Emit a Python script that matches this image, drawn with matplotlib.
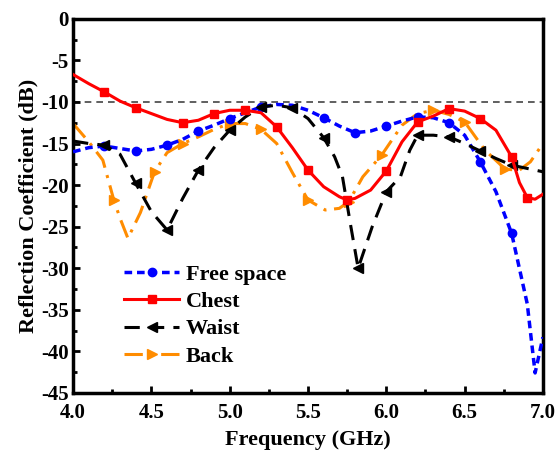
import matplotlib
matplotlib.use("Agg")
import matplotlib.pyplot as plt

plt.rcParams['font.family'] = ['Liberation Serif', 'DejaVu Serif']
plt.rcParams['font.weight'] = 'bold'
plt.rcParams['axes.labelweight'] = 'bold'
plt.rcParams['axes.unicode_minus'] = False

# values (GHz, dB)
free_x = [4.0, 4.1, 4.2, 4.3, 4.4, 4.5, 4.6, 4.7, 4.8, 4.9, 5.0, 5.1, 5.2, 5.3, 5.4, 5.5,
          5.6, 5.7, 5.8, 5.9, 6.0, 6.1, 6.2, 6.3, 6.4, 6.5, 6.6, 6.7, 6.8, 6.9, 6.95, 7.0]
free_y = [-16.0, -15.5, -15.3, -15.6, -15.9, -15.7, -15.2, -14.5, -13.5, -12.8, -12.0, -11.3,
          -10.6, -10.3, -10.4, -11.0, -11.9, -12.9, -13.7, -13.5, -12.9, -12.3, -11.8, -11.9,
          -12.5, -14.0, -17.2, -20.8, -25.8, -34.3, -42.6, -38.3]
free_marks = [2, 4, 6, 8, 10, 12, 16, 18, 20, 22, 24, 26, 28]

chest_x = [4.0, 4.1, 4.2, 4.3, 4.4, 4.5, 4.6, 4.7, 4.8, 4.9, 5.0, 5.1, 5.2, 5.3, 5.4, 5.5,
           5.6, 5.7, 5.75, 5.8, 5.9, 6.0, 6.1, 6.2, 6.3, 6.4, 6.5, 6.6, 6.7, 6.8, 6.85, 6.9, 6.95, 7.0]
chest_y = [-6.7, -7.8, -8.8, -9.9, -10.7, -11.4, -12.1, -12.5, -12.2, -11.4, -11.0, -11.0,
           -11.3, -13.0, -15.5, -18.2, -20.2, -21.4, -21.8, -21.6, -20.6, -18.3, -14.8, -12.4,
           -11.7, -10.8, -11.1, -12.0, -13.4, -16.6, -19.7, -21.5, -21.7, -21.1]
chest_marks = [2, 4, 7, 9, 11, 13, 15, 18, 21, 23, 25, 27, 29, 31]

waist_x = [4.0, 4.1, 4.2, 4.3, 4.4, 4.5, 4.6, 4.7, 4.8, 4.9, 5.0, 5.1, 5.2, 5.3, 5.4, 5.5,
           5.6, 5.67, 5.72, 5.77, 5.82, 5.91, 6.0, 6.09, 6.15, 6.2, 6.3, 6.4, 6.5, 6.6, 6.7, 6.8, 6.9, 7.0]
waist_y = [-14.7, -15.0, -15.2, -16.3, -19.8, -23.2, -25.4, -21.6, -18.2, -15.5, -13.4, -11.8,
           -10.6, -10.4, -10.7, -12.0, -14.3, -16.6, -19.0, -24.6, -30.0, -25.0, -20.8, -19.0,
           -15.8, -14.0, -14.0, -14.2, -15.0, -15.9, -16.8, -17.6, -18.0, -18.4]
waist_marks = [2, 4, 6, 8, 10, 12, 14, 16, 20, 22, 25, 27, 29, 31]

back_x = [4.0, 4.1, 4.19, 4.26, 4.3, 4.35, 4.43, 4.52, 4.6, 4.7, 4.8, 4.9, 5.0, 5.1, 5.2, 5.3,
          5.4, 5.5, 5.61, 5.7, 5.76, 5.85, 5.97, 6.1, 6.2, 6.3, 6.4, 6.5, 6.63, 6.76, 6.85, 6.92, 7.0]
back_y = [-12.6, -14.8, -17.0, -21.8, -24.0, -26.4, -23.3, -18.4, -16.1, -15.0, -14.2, -13.3,
          -12.6, -12.6, -13.3, -15.0, -18.5, -21.8, -23.0, -22.8, -22.0, -19.0, -16.4, -12.8,
          -11.4, -11.0, -11.5, -12.4, -15.8, -18.1, -18.2, -17.2, -15.0]
back_marks = [3, 7, 9, 12, 14, 17, 20, 22, 25, 27, 29]

fig = plt.figure(figsize=(5.58, 4.59), dpi=100)
ax = fig.add_axes([0.131, 0.144, 0.842, 0.815])

ax.axhline(-10, color='#444444', lw=1.2, ls=(0, (4, 3)), zorder=1)

ax.plot(free_x, free_y, color='#0000ff', lw=2.5, ls=(0, (2.2, 1.4)), marker='o', ms=6,
        markevery=free_marks, label='Free space', zorder=3)
ax.plot(chest_x, chest_y, color='#ff0000', lw=2.2, ls='-', marker='s', ms=5.5,
        markevery=chest_marks, label='Chest', zorder=4)
ax.plot(waist_x, waist_y, color='black', lw=2.2, ls=(0, (5, 3)), marker='<', ms=6.5,
        markevery=waist_marks, label='Waist', zorder=3)
ax.plot(back_x, back_y, color='#ff8c00', lw=2.2, ls=(0, (6, 2.5, 1, 2.5)), marker='>', ms=6.5,
        markevery=back_marks, label='Back', zorder=2)

ax.set_xlim(4.0, 7.0)
ax.set_ylim(-45, 0)
ax.set_xticks([4.0, 4.5, 5.0, 5.5, 6.0, 6.5, 7.0])
ax.set_xticks([4.25, 4.75, 5.25, 5.75, 6.25, 6.75], minor=True)
ax.set_yticks(range(-45, 1, 5))
ax.set_yticks([y + 2.5 for y in range(-45, 0, 5)], minor=True)
ax.set_xticklabels(['4.0', '4.5', '5.0', '5.5', '6.0', '6.5', '7.0'])

ax.tick_params(which='both', direction='in', width=2, labelsize=15)
ax.tick_params(axis='x', pad=7)
ax.tick_params(axis='y', pad=3)
ax.tick_params(which='major', length=5)
ax.tick_params(which='minor', length=3)
for sp in ax.spines.values():
    sp.set_linewidth(2.5)

ax.set_xlabel('Frequency (GHz)', fontsize=16, labelpad=5)
ax.set_ylabel('Reflection Coefficient (dB)', fontsize=16, labelpad=2)

ax.legend(loc='upper left', bbox_to_anchor=(0.075, 0.385), frameon=False, fontsize=16,
          handlelength=2.5, handletextpad=0.3, labelspacing=0.3, borderpad=0.2)

fig.savefig('out.png', dpi=100)
